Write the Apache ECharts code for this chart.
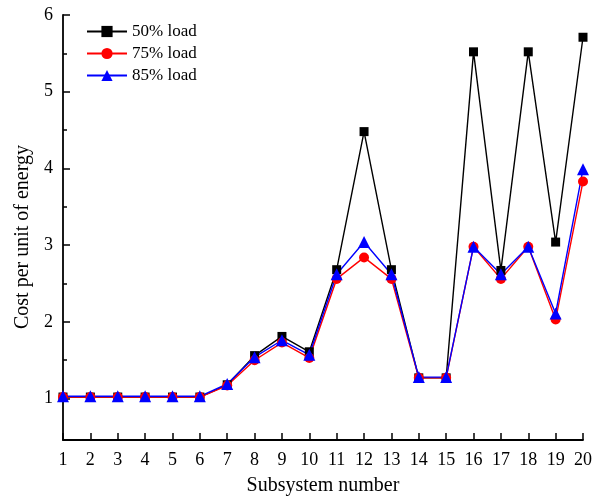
<!DOCTYPE html>
<html>
<head>
<meta charset="utf-8">
<script src="https://cdn.jsdelivr.net/npm/echarts@6/dist/echarts.min.js"></script>
<style>html,body{margin:0;padding:0;background:#fff}#c{width:607px;height:501px}</style>
</head>
<body>
<div id="c"></div>
<script>
const subsystems = ['1','2','3','4','5','6','7','8','9','10','11','12','13','14','15','16','17','18','19','20'];
const load50 = [1.02,1.02,1.02,1.02,1.02,1.02,1.18,1.56,1.81,1.61,2.68,4.48,2.68,1.27,1.27,5.52,2.67,5.52,3.04,5.71];
const load75 = [1.02,1.02,1.02,1.02,1.02,1.02,1.17,1.50,1.73,1.53,2.56,2.84,2.56,1.27,1.27,2.98,2.56,2.98,2.03,3.83];
const load85 = [1.03,1.03,1.03,1.03,1.03,1.03,1.19,1.54,1.76,1.57,2.62,3.04,2.62,1.28,1.28,2.98,2.62,2.98,2.11,3.99];
const majorTicks = [1,2,3,4,5,6];
const minorTicks = [1.5,2.5,3.5,4.5,5.5];

const font = '"Liberation Serif", "DejaVu Serif", serif';
const chart = echarts.init(document.getElementById('c'), null, {renderer: 'canvas'});

function line(name, data, color, symbol, size) {
  return {
    name, type: 'line', data, symbol, symbolSize: size,
    lineStyle: {color, width: 1.4},
    itemStyle: {color},
    animation: false
  };
}

chart.setOption({
  animation: false,
  grid: {left: 63, right: 24, top: 15, bottom: 59},
  legend: {
    left: 81, top: 18, orient: 'vertical', itemGap: 5,
    itemWidth: 40, itemHeight: 14,
    textStyle: {fontFamily: font, fontSize: 17, lineHeight: 17, color: '#000'},
    data: ['50% load', '75% load', '85% load']
  },
  xAxis: {
    type: 'category', data: subsystems, boundaryGap: false,
    name: 'Subsystem number', nameLocation: 'middle', nameGap: 36,
    nameTextStyle: {fontFamily: font, fontSize: 20, color: '#000'},
    axisLine: {lineStyle: {color: '#000', width: 1.8}},
    axisTick: {inside: true, length: 7, alignWithLabel: true, lineStyle: {color: '#000', width: 1.5}},
    axisLabel: {fontFamily: font, fontSize: 18, color: '#000', margin: 11},
    splitLine: {show: false}
  },
  yAxis: [{
    type: 'value', min: 0.46, max: 6,
    name: 'Cost per unit of energy', nameLocation: 'middle', nameGap: 30,
    nameTextStyle: {fontFamily: font, fontSize: 20, color: '#000', padding: [0, 19, 0, 0]},
    axisLine: {show: true, lineStyle: {color: '#000', width: 1.8}},
    axisTick: {show: true, inside: true, length: 7, customValues: majorTicks, lineStyle: {color: '#000', width: 1.5}},
    axisLabel: {fontFamily: font, fontSize: 18, color: '#000', margin: 10, customValues: majorTicks},
    splitLine: {show: false}
  }, {
    type: 'value', min: 0.46, max: 6, position: 'left',
    axisLine: {show: false},
    axisTick: {show: true, inside: true, length: 4, customValues: minorTicks, lineStyle: {color: '#000', width: 1.5}},
    axisLabel: {show: false},
    splitLine: {show: false}
  }],
  series: [
    line('50% load', load50, '#000000', 'rect', 9),
    line('75% load', load75, '#ff0000', 'circle', 10),
    line('85% load', load85, '#0000ff', 'triangle', 12)
  ]
});
</script>
</body>
</html>
